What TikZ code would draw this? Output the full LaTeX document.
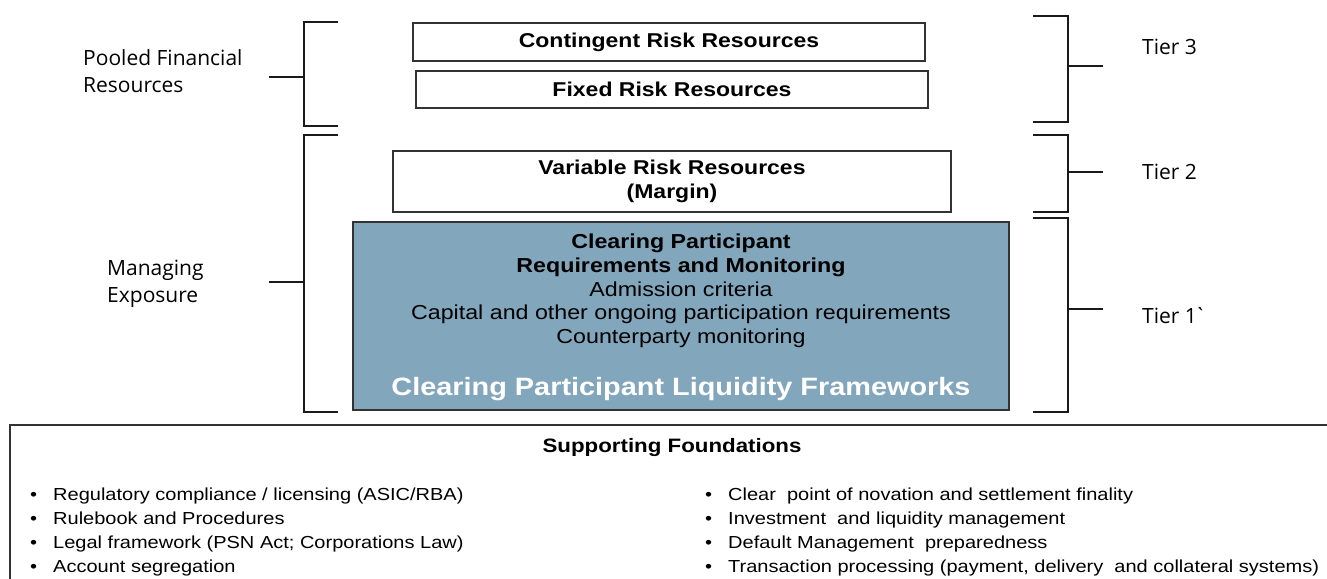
\documentclass[tikz,border=0pt]{standalone}
\usepackage{fontspec}
\setmainfont{Liberation Sans}
\newfontfamily\arialw[FakeStretch=1.15]{Liberation Sans}
\newfontfamily\opensans{Open Sans}
\definecolor{boxblue}{HTML}{82A6BC}
\definecolor{edge}{HTML}{333333}
\definecolor{brkcol}{HTML}{1A1A1A}
\begin{document}
\begin{tikzpicture}[x=1pt,y=-1pt,
  plainbox/.style={draw=edge, line width=1.3pt, fill=white, inner sep=0pt},
  bluebox/.style={draw=edge, line width=1.3pt, fill=boxblue, inner sep=0pt},
  brk/.style={draw=brkcol, line width=1.5pt},
  lbl/.style={font=\opensans\fontsize{21}{27}\selectfont, align=left, inner sep=0pt, text=black},
  boxtxt/.style={font=\arialw\bfseries\fontsize{20}{24}\selectfont, align=center, inner sep=0pt},
  bluetxt/.style={font=\arialw\fontsize{20.2}{23}\selectfont, inner sep=0pt, anchor=base},
  bluebold/.style={font=\arialw\bfseries\fontsize{20.2}{23}\selectfont, inner sep=0pt, anchor=base},
  listtxt/.style={font=\arialw\fontsize{17.4}{20}\selectfont, inner sep=0pt, anchor=base west},
]
\useasboundingbox (0,0) rectangle (1327,578);
% bottom frame
\draw[draw=edge, line width=1.3pt] (10,600) -- (10,425) -- (1345,425);
% boxes
\node[plainbox, minimum width=512pt, minimum height=38pt] (cont) at (669,42) {};
\node[boxtxt] (conttxt) at (cont.center) {Contingent Risk Resources};
\node[plainbox, minimum width=512pt, minimum height=37pt] (fixed) at (672,89.5) {};
\node[boxtxt] (fixedtxt) at (fixed.center) {Fixed Risk Resources};
\node[plainbox, minimum width=558pt, minimum height=61pt] (var) at (672,181.5) {};
\node[boxtxt] (vartxt) at (var.center) {Variable Risk Resources\\(Margin)};
\node[bluebox, minimum width=656pt, minimum height=188pt] (blue) at (681,316) {};
\node[bluebold] (b1) at (681,248) {Clearing Participant};
\node[bluebold] (b2) at (681,272) {Requirements and Monitoring};
\node[bluetxt] (b3) at (681,296) {Admission criteria};
\node[bluetxt] (b4) at (681,319.5) {Capital and other ongoing participation requirements};
\node[bluetxt] (b5) at (681,343) {Counterparty monitoring};
\node[font=\arialw\bfseries\fontsize{25.1}{28}\selectfont, text=white, inner sep=0pt, anchor=base] (b6) at (681,395) {Clearing Participant Liquidity Frameworks};
% left brackets
\draw[brk] (338,22) -- (304,22) -- (304,126) -- (338,126);
\draw[brk] (269,77) -- (304,77);
\draw[brk] (338,135) -- (304,135) -- (304,412) -- (338,412);
\draw[brk] (269,282) -- (304,282);
% right brackets
\draw[brk] (1033,16) -- (1068,16) -- (1068,122) -- (1033,122);
\draw[brk] (1068,66) -- (1103,66);
\draw[brk] (1033,135) -- (1068,135) -- (1068,212) -- (1033,212);
\draw[brk] (1068,172) -- (1103,172);
\draw[brk] (1033,218) -- (1068,218) -- (1068,412) -- (1033,412);
\draw[brk] (1068,309) -- (1103,309);
% side labels
\node[lbl, anchor=west] (pooled) at (83,71.5) {Pooled Financial\\Resources};
\node[lbl, anchor=west] (managing) at (107,284) {Managing\\Exposure};
\node[lbl, anchor=west] (t3) at (1142,47) {Tier 3};
\node[lbl, anchor=west] (t2) at (1142,172) {Tier 2};
\node[lbl, anchor=west] (t1) at (1142,316) {Tier 1\kern-2.5pt\textasciigrave};
% supporting foundations
\node[font=\arialw\bfseries\fontsize{19.4}{22}\selectfont, inner sep=0pt] (sf) at (672,448) {Supporting Foundations};
\foreach \y/\t [count=\i] in {500/{Regulatory compliance / licensing (ASIC/RBA)},
  524/{Rulebook and Procedures},
  548/{Legal framework (PSN Act; Corporations Law)},
  572/{Account segregation}}{
  \node[listtxt] (lb\i) at (30,\y) {•};
  \node[listtxt] (l\i) at (53,\y) {\t};
}
\foreach \y/\t [count=\i] in {500/{Clear\ \ point of novation and settlement finality},
  524/{Investment\ \ and liquidity management},
  548/{Default Management\ \ preparedness},
  572/{Transaction processing (payment, delivery\ \ and collateral systems)}}{
  \node[listtxt] (rb\i) at (705,\y) {•};
  \node[listtxt] (r\i) at (728,\y) {\t};
}
\end{tikzpicture}
\end{document}
